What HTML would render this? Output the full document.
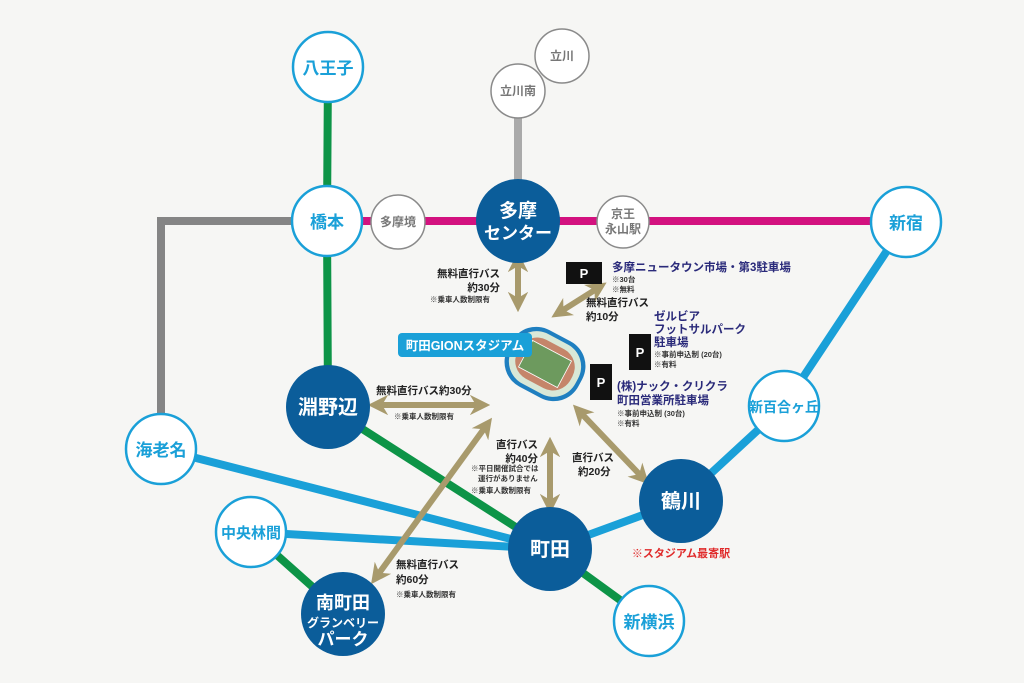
<!DOCTYPE html>
<html><head><meta charset="utf-8"><style>
html,body{margin:0;padding:0;background:#f6f6f4;}
svg{display:block;font-family:"Liberation Sans","Noto Sans CJK JP",sans-serif;font-weight:bold;}
</style></head><body>
<svg width="1024" height="683" viewBox="0 0 1024 683" xmlns="http://www.w3.org/2000/svg">
<defs>
<marker id="ah" viewBox="0 0 10 10" refX="5" refY="5" markerWidth="3.4" markerHeight="3.4" orient="auto-start-reverse">
<path d="M0,0 L10,5 L0,10 L3,5 Z" fill="#a89a6c"/>
</marker>
</defs>
<rect width="1024" height="683" fill="#f6f6f4"/>
<g stroke-width="8" fill="none">
<polyline points="327,221 161,221 161,449" stroke="#858585"/>
<line x1="518" y1="91" x2="518" y2="221" stroke="#aaaaaa"/>
<line x1="327" y1="221" x2="906" y2="221" stroke="#d3127f"/>
<polyline points="328,67 327,221 328,407 550,549 649,621" stroke="#0d9447"/>
<line x1="251" y1="532" x2="343" y2="614" stroke="#0d9447"/>
<line x1="161" y1="449" x2="550" y2="549" stroke="#1aa0d8"/>
<line x1="251" y1="532" x2="550" y2="549" stroke="#1aa0d8"/>
<polyline points="550,549 681,501 784,406 906,222" stroke="#1aa0d8"/>
</g>
<g stroke="#a89a6c" stroke-width="6" fill="none" marker-start="url(#ah)" marker-end="url(#ah)">
<line x1="518" y1="262" x2="518" y2="302"/>
<line x1="560" y1="312" x2="598" y2="288"/>
<line x1="378" y1="405" x2="480" y2="405"/>
<line x1="550" y1="447" x2="550" y2="504"/>
<line x1="580" y1="412" x2="642" y2="477"/>
<line x1="486" y1="426" x2="377" y2="576"/>
</g>
<g fill="#fff" stroke="#1aa0d8" stroke-width="2.5">
<circle cx="328" cy="67" r="35"/><circle cx="327" cy="221" r="35"/>
<circle cx="906" cy="222" r="35"/><circle cx="784" cy="406" r="35"/>
<circle cx="161" cy="449" r="35"/><circle cx="251" cy="532" r="35"/>
<circle cx="649" cy="621" r="35"/>
</g>
<g fill="#fff" stroke="#8a8a8a" stroke-width="1.5">
<circle cx="398" cy="222" r="27"/><circle cx="623" cy="222" r="26"/>
<circle cx="518" cy="91" r="27"/><circle cx="562" cy="56" r="27"/>
</g>
<g fill="#0b5d9a">
<circle cx="518" cy="221" r="42"/><circle cx="328" cy="407" r="42"/>
<circle cx="681" cy="501" r="42"/><circle cx="550" cy="549" r="42"/>
<circle cx="343" cy="614" r="42"/>
</g>
<g fill="#1aa0d8" font-size="17" text-anchor="middle">
<text x="328" y="74">八王子</text><text x="327" y="228">橋本</text>
<text x="906" y="229">新宿</text><text x="784" y="412" font-size="14">新百合ヶ丘</text>
<text x="161" y="456">海老名</text><text x="251" y="538" font-size="15">中央林間</text>
<text x="649" y="628">新横浜</text>
</g>
<g fill="#777" font-size="12" text-anchor="middle">
<text x="398" y="226">多摩境</text><text x="623" y="218">京王</text><text x="623" y="233">永山駅</text>
<text x="518" y="95">立川南</text><text x="562" y="60">立川</text>
</g>
<g fill="#fff" font-size="20" text-anchor="middle">
<text x="518" y="217" font-size="19">多摩</text><text x="518" y="239" font-size="17">センター</text>
<text x="328" y="414">淵野辺</text><text x="681" y="508">鶴川</text><text x="550" y="556">町田</text>
<text x="343" y="609" font-size="18">南町田</text><text x="343" y="627" font-size="12">グランベリー</text><text x="343" y="645" font-size="17">パーク</text>
</g>
<text x="681" y="557" fill="#e02b2b" font-size="11" text-anchor="middle">※スタジアム最寄駅</text>
<g transform="translate(545,364) rotate(28)">
<rect x="-40" y="-32" width="80" height="64" rx="28" fill="#1f7fc0"/>
<rect x="-36" y="-28" width="72" height="56" rx="25" fill="#d9e8d7"/>
<rect x="-30" y="-22" width="60" height="44" rx="20" fill="#c5856a"/>
<rect x="-22" y="-15" width="44" height="30" fill="#6d9a5e" stroke="#fff" stroke-width="0.8"/>
</g>
<rect x="398" y="333" width="134" height="24" rx="4" fill="#1aa0d8"/>
<text x="465" y="350" fill="#fff" font-size="12.5" text-anchor="middle">町田GIONスタジアム</text>
<g fill="#111"><rect x="566" y="262" width="36" height="22"/><rect x="629" y="334" width="22" height="36"/><rect x="590" y="364" width="22" height="36"/></g>
<g fill="#fff" font-size="13" text-anchor="middle"><text x="584" y="278">P</text><text x="640" y="357">P</text><text x="601" y="387">P</text></g>
<g fill="#2a2a7a" font-size="11.5">
<text x="612" y="271">多摩ニュータウン市場・第3駐車場</text>
<text x="654" y="320">ゼルビア</text><text x="654" y="333">フットサルパーク</text><text x="654" y="346">駐車場</text>
<text x="617" y="390">(株)ナック・クリクラ</text><text x="617" y="404">町田営業所駐車場</text>
</g>
<g fill="#333" font-size="7.5">
<text x="612" y="282">※30台</text><text x="612" y="292">※無料</text>
<text x="654" y="357">※事前申込制 (20台)</text><text x="654" y="367">※有料</text>
<text x="617" y="416">※事前申込制 (30台)</text><text x="617" y="426">※有料</text>
<text x="430" y="302">※乗車人数制限有</text>
<text x="394" y="419">※乗車人数制限有</text>
<text x="471" y="471">※平日開催試合では</text><text x="478" y="481">運行がありません</text><text x="471" y="493">※乗車人数制限有</text>
<text x="396" y="597">※乗車人数制限有</text>
</g>
<g fill="#222" font-size="10.5">
<text x="500" y="277" text-anchor="end">無料直行バス</text><text x="500" y="291" text-anchor="end">約30分</text>
<text x="586" y="306">無料直行バス</text><text x="586" y="320">約10分</text>
<text x="376" y="394">無料直行バス約30分</text>
<text x="538" y="448" text-anchor="end">直行バス</text><text x="538" y="462" text-anchor="end">約40分</text>
<text x="572" y="461">直行バス</text><text x="578" y="475">約20分</text>
<text x="396" y="568">無料直行バス</text><text x="396" y="583">約60分</text>
</g>
</svg>
</body></html>
